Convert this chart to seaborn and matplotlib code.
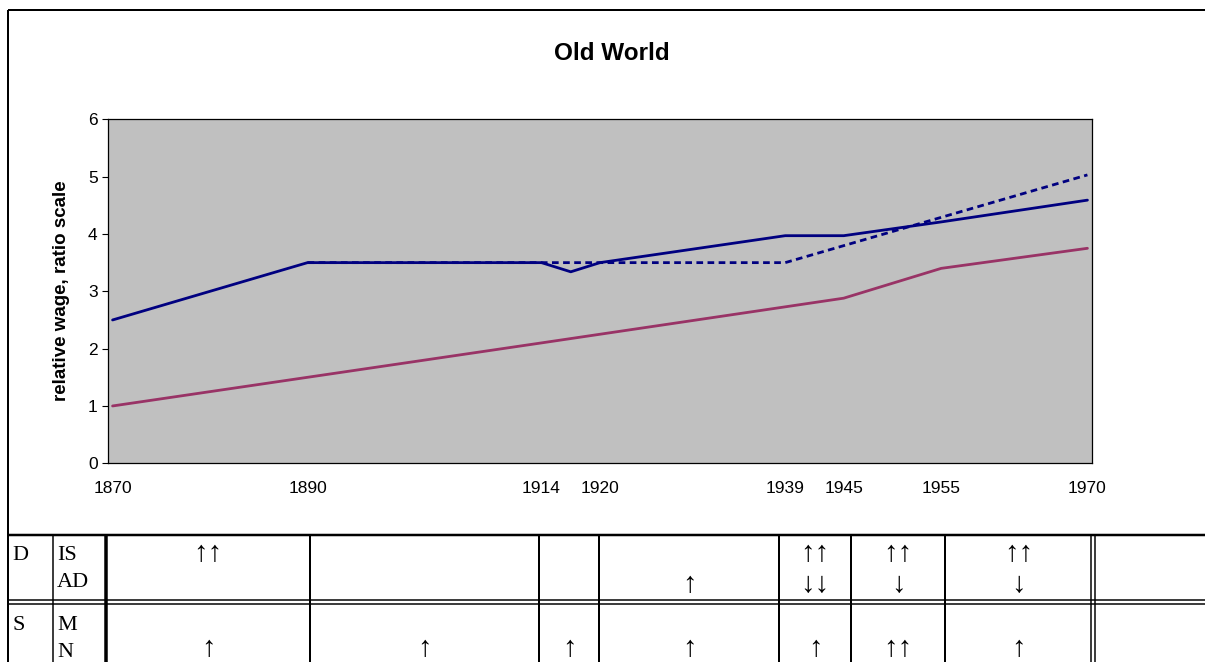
import matplotlib
matplotlib.use("Agg")
import matplotlib.pyplot as plt
import seaborn as sns
import pandas as pd

# ---------------- data ----------------
years_upper = [1870, 1890, 1914, 1917, 1920, 1939, 1945, 1955, 1970]
wage_upper = [2.50, 3.50, 3.50, 3.34, 3.50, 3.97, 3.97, 4.21, 4.59]

years_trend = [1890, 1914, 1939, 1970]
wage_trend = [3.50, 3.50, 3.50, 5.03]

years_lower = [1870, 1890, 1914, 1945, 1955, 1970]
wage_lower = [1.00, 1.50, 2.10, 2.88, 3.40, 3.75]

x_tick_years = [1870, 1890, 1914, 1920, 1939, 1945, 1955, 1970]
y_ticks = [0, 1, 2, 3, 4, 5, 6]

title = "Old World"
y_label = "relative wage, ratio scale"

# table below the chart
row_heads = ["D", "S"]
row_subheads = [["IS", "AD"], ["M", "N"]]
demand_line1 = ["↑↑", "", "", "", "↑↑", "↑↑", "↑↑", ""]
demand_line2 = ["", "", "", "↑", "↓↓", "↓", "↓", ""]
supply_line1 = ["", "", "", "", "", "", "", ""]
supply_line2 = ["↑", "↑", "↑", "↑", "↑", "↑↑", "↑", ""]

# ---------------- style ----------------
sns.set_theme(style="white")
plt.rcParams["font.family"] = ["Liberation Sans", "DejaVu Sans"]
plt.rcParams["text.color"] = "black"
plt.rcParams["axes.labelcolor"] = "black"

W, H = 1205, 662
fig = plt.figure(figsize=(W / 100, H / 100), dpi=100)

# overlay axes in pixel coordinates for frame and table
ov = fig.add_axes([0, 0, 1, 1], zorder=0)
ov.set_xlim(0, W)
ov.set_ylim(H, 0)
ov.axis("off")

# chart axes
ax_l, ax_r, ax_t, ax_b = 107.7, 1092.3, 119.3, 463.3
ax = fig.add_axes([ax_l / W, 1 - ax_b / H, (ax_r - ax_l) / W, (ax_b - ax_t) / H], zorder=2)
ax.set_facecolor("#C0C0C0")

navy = "#000080"
maroon = "#993366"

df_u = pd.DataFrame({"year": years_upper, "wage": wage_upper})
df_t = pd.DataFrame({"year": years_trend, "wage": wage_trend})
df_l = pd.DataFrame({"year": years_lower, "wage": wage_lower})

sns.lineplot(data=df_l, x="year", y="wage", ax=ax, color=maroon, lw=2.0, legend=False)
sns.lineplot(data=df_u, x="year", y="wage", ax=ax, color=navy, lw=2.0, legend=False)
sns.lineplot(data=df_t, x="year", y="wage", ax=ax, color=navy, lw=2.0,
             linestyle=(0, (2.4, 1.6)), legend=False)

ax.set_xlim(1869.5, 1970.5)
ax.set_ylim(0, 6)
ax.set_xticks(x_tick_years)
ax.set_xticklabels([str(y) for y in x_tick_years])
ax.set_yticks(y_ticks)
ax.set_xlabel("")
ax.set_ylabel("")
ax.tick_params(axis="x", length=0, pad=13, labelsize=12.5, colors="black")
ax.tick_params(axis="y", left=True, length=4.3, width=0.8, direction="out",
               pad=3, labelsize=12.5, colors="black")
for sp in ax.spines.values():
    sp.set_visible(True)
    sp.set_color("black")
    sp.set_linewidth(0.9)
ax.grid(False)

fig.text(612 / W, 1 - 54 / H, title, ha="center", va="center",
         fontsize=17.5, fontweight="bold", color="black")
fig.text(62 / W, 1 - 291 / H, y_label, ha="center", va="center",
         rotation=90, fontsize=13.5, fontweight="bold", color="black")

# ---------------- frame and table ----------------
k = dict(color="black", solid_capstyle="butt")
px = 0.72  # one pixel in points
# chart frame
ov.plot([8, W], [10, 10], lw=2 * px, **k)
ov.plot([8, 8], [10, H], lw=2 * px, **k)

# table horizontal rules
top, mid1, mid2 = 535, 599.5, 603.5
ov.plot([8, W], [top, top], lw=2.5 * px, **k)
ov.plot([8, W], [mid1, mid1], lw=1.5 * px, **k)
ov.plot([8, W], [mid2, mid2], lw=1.5 * px, **k)

col_edges = [106, 310, 539, 599, 779, 851, 945, 1092]
# label column separator
ov.plot([53, 53], [top, H], lw=1.5 * px, **k)
# thick separator
ov.plot([106, 106], [top, H], lw=3.5 * px, **k)
for xe in col_edges[1:-1]:
    ov.plot([xe, xe], [top, H], lw=2 * px, **k)
ov.plot([1090.5, 1090.5], [top, H], lw=1.5 * px, **k)
ov.plot([1094.5, 1094.5], [top, H], lw=1.5 * px, **k)

cell_edges = col_edges + [W]
serif = ["Liberation Serif", "DejaVu Serif"]
fs = 16
fs_arrow = 21
row_base = [(560, 587), (630, 657)]
arrow_base = [(561, 592), (631, 656)]
rows = [(demand_line1, demand_line2), (supply_line1, supply_line2)]
for r in range(2):
    b1, b2 = row_base[r]
    a1, a2 = arrow_base[r]
    ov.text(12, b1, row_heads[r], family=serif, fontsize=fs, va="baseline", ha="left")
    ov.text(57, b1, row_subheads[r][0], family=serif, fontsize=fs, va="baseline", ha="left")
    ov.text(57, b2, row_subheads[r][1], family=serif, fontsize=fs, va="baseline", ha="left")
    l1, l2 = rows[r]
    for i in range(len(l1)):
        cx = (cell_edges[i] + cell_edges[i + 1]) / 2
        if l1[i]:
            ov.text(cx, a1, l1[i], family=serif, fontsize=fs_arrow, va="baseline", ha="center")
        if l2[i]:
            ov.text(cx, a2, l2[i], family=serif, fontsize=fs_arrow, va="baseline", ha="center")

fig.savefig("out.png", dpi=100)
